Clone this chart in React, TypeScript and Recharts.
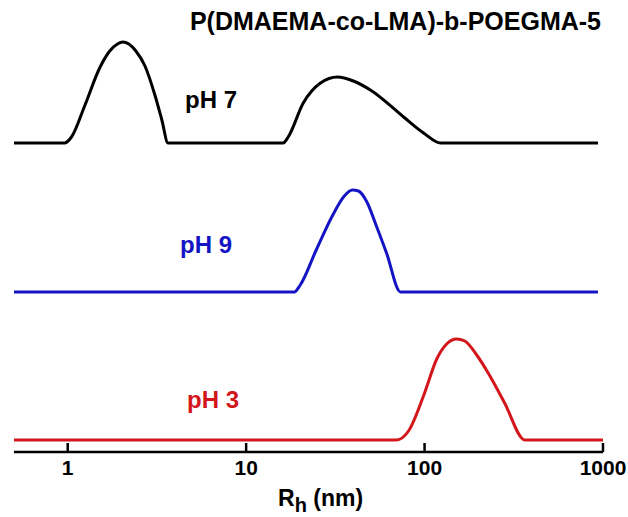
import { LineChart, Line, XAxis, YAxis } from "recharts";

// hydrodynamic radius (nm) / intensity
const ph7Rh = [0.5, 0.96, 1.05, 1.25, 1.51, 1.72, 1.9, 2.04, 2.2, 2.41, 2.71, 3.08, 3.37, 3.65, 16.1, 17.2, 20.9, 26.1, 32.5, 39.9, 49.7, 76.3, 98.7, 123, 937];
const ph7Int = [0, 0, 6, 38, 75, 92, 99, 101, 99, 92, 77, 48, 23, 0, 0, 6, 40, 60, 66, 62, 53, 26, 10, 0, 0];

const ph9Rh = [0.5, 18.6, 20.1, 24.7, 30.4, 35.5, 39.4, 42.6, 47.2, 53.7, 61.2, 73.3, 937];
const ph9Int = [0, 0, 7, 42, 76, 96, 102, 101, 91, 66, 39, 0, 0];

const ph3Rh = [0.5, 69.6, 81.3, 100, 117, 133, 151, 168, 196, 229, 281, 365, 1000];
const ph3Int = [0, 0, 9, 47, 81, 96, 101, 99, 85, 66, 37, 0, 0];

// vertical offsets used to stack the traces
const offsets = { ph7: 309, ph9: 160, ph3: 12 };

const xTicks = [1, 10, 100, 1000];

const toSeries = (rh: number[], intensity: number[], offset: number) =>
  rh.map((r, i) => ({ rh: r, y: intensity[i] + offset }));

const FONT = "'Liberation Sans', Arial, sans-serif";

const RhTick = ({ x, y, payload }: any) => (
  <g>
    <line x1={x} x2={x} y1={y} y2={y - 9} stroke="#000" strokeWidth={2.5} />
    <text x={x} y={y + 23} textAnchor="middle" fontFamily={FONT} fontWeight="bold" fontSize={21} fill="#000">
      {payload.value}
    </text>
  </g>
);

export default function App() {
  const black = toSeries(ph7Rh, ph7Int, offsets.ph7);
  const blue = toSeries(ph9Rh, ph9Int, offsets.ph9);
  const red = toSeries(ph3Rh, ph3Int, offsets.ph3);

  return (
    <div style={{ position: "absolute", left: 0, top: 0, background: "#fff" }}>
      <LineChart width={628} height={517} margin={{ top: 32, right: 25, bottom: 0, left: 14 }}>
        <XAxis
          dataKey="rh"
          type="number"
          scale="log"
          domain={[0.5, 1000]}
          allowDataOverflow
          ticks={xTicks}
          tick={<RhTick />}
          tickLine={false}
          tickSize={0}
          tickMargin={0}
          height={65}
          axisLine={{ stroke: "#000", strokeWidth: 2.5 }}
        />
        <YAxis hide type="number" domain={[0, 420]} allowDataOverflow />
        <Line data={black} dataKey="y" type="monotone" stroke="#000" strokeWidth={3} dot={false} isAnimationActive={false} />
        <Line data={blue} dataKey="y" type="monotone" stroke="#1414c4" strokeWidth={3} dot={false} isAnimationActive={false} />
        <Line data={red} dataKey="y" type="monotone" stroke="#d3161c" strokeWidth={3} dot={false} isAnimationActive={false} />
        <text x={601} y={30} textAnchor="end" fontFamily={FONT} fontWeight="bold" fontSize={25} fill="#000">
          P(DMAEMA-co-LMA)-b-POEGMA-5
        </text>
        <text x={185} y={108} fontFamily={FONT} fontWeight="bold" fontSize={24} fill="#000">pH 7</text>
        <text x={180} y={253} fontFamily={FONT} fontWeight="bold" fontSize={24} fill="#1414c4">pH 9</text>
        <text x={187} y={408} fontFamily={FONT} fontWeight="bold" fontSize={24} fill="#d3161c">pH 3</text>
        <text x={278} y={506} fontFamily={FONT} fontWeight="bold" fontSize={23} fill="#000">
          R<tspan fontSize={20} dy={6}>h</tspan>
          <tspan dy={-6}> (nm)</tspan>
        </text>
      </LineChart>
    </div>
  );
}
